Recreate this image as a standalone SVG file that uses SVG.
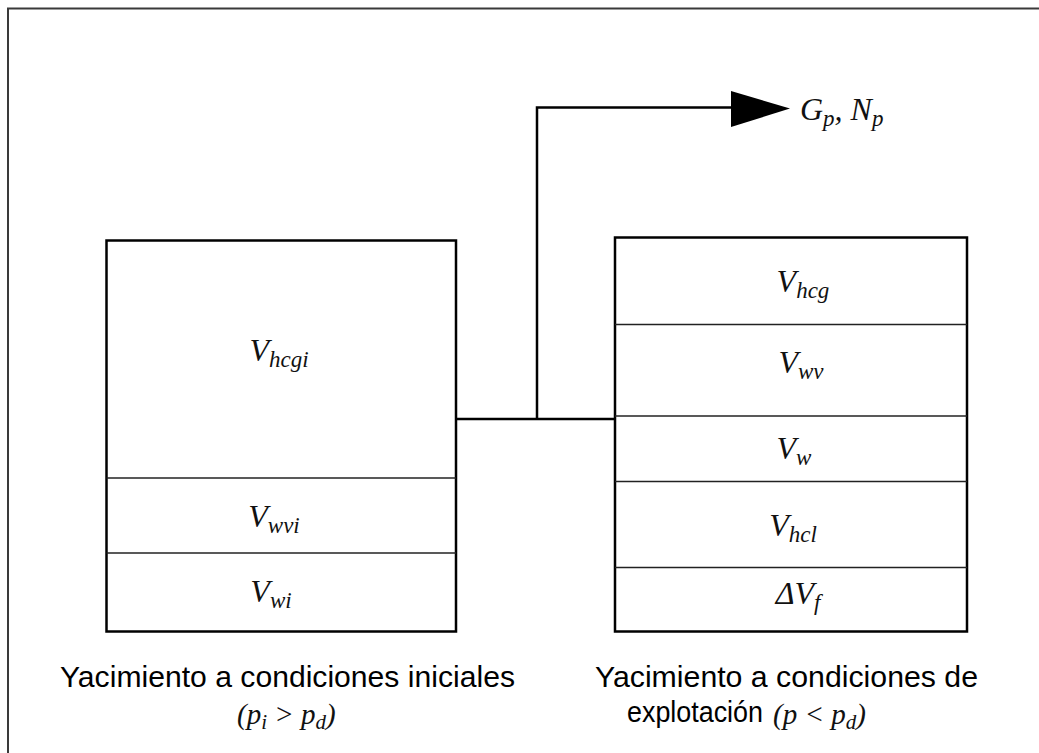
<svg xmlns="http://www.w3.org/2000/svg" width="1039" height="753" viewBox="0 0 1039 753">
<style>
.frame{fill:none;stroke:#3a3a3a;stroke-width:2}
.box{fill:#fff;stroke:#000;stroke-width:2.5}
.div{stroke:#222;stroke-width:1.5}
.conn{fill:none;stroke:#000;stroke-width:2.5}
.m{font-family:"Liberation Serif","DejaVu Serif",serif;font-style:italic;font-size:32px;fill:#111}
.s{font-size:23px}
.lbl{font-family:"Liberation Sans",Arial,sans-serif;font-size:30px;fill:#000}
.ml{font-family:"Liberation Serif","DejaVu Serif",serif;font-style:italic;font-size:29px;fill:#111}
.ms{font-size:21px}
</style>
<rect width="1039" height="753" fill="#fff"/>
<rect class="frame" x="8" y="8.5" width="1100" height="800"/>
<g id="connectors">
<path class="conn" d="M456 419 H615 M537 419 V107.5 H735"/>
<polygon points="731,91 790,108.5 731,127" fill="#000"/>
<text class="m" x="800" y="120">G<tspan class="s" dy="6">p</tspan><tspan dy="-6">, N</tspan><tspan class="s" dy="6">p</tspan></text>
</g>
<g id="initial">
<rect class="box" x="106.5" y="240.5" width="349.5" height="391"/>
<line class="div" x1="106.5" y1="478" x2="456" y2="478"/>
<line class="div" x1="106.5" y1="553" x2="456" y2="553"/>
<text class="m" x="279" y="361" text-anchor="middle">V<tspan class="s" dy="6">hcgi</tspan></text>
<text class="m" x="274" y="527" text-anchor="middle">V<tspan class="s" dy="6">wvi</tspan></text>
<text class="m" x="271" y="602" text-anchor="middle">V<tspan class="s" dy="6">wi</tspan></text>
</g>
<g id="exploitation">
<rect class="box" x="615" y="237.5" width="352" height="394"/>
<line class="div" x1="615" y1="324.5" x2="967" y2="324.5"/>
<line class="div" x1="615" y1="416" x2="967" y2="416"/>
<line class="div" x1="615" y1="481.5" x2="967" y2="481.5"/>
<line class="div" x1="615" y1="567.5" x2="967" y2="567.5"/>
<text class="m" x="803" y="292" text-anchor="middle">V<tspan class="s" dy="6">hcg</tspan></text>
<text class="m" x="801" y="373" text-anchor="middle">V<tspan class="s" dy="6">wv</tspan></text>
<text class="m" x="794" y="459" text-anchor="middle">V<tspan class="s" dy="6">w</tspan></text>
<text class="m" x="793" y="536" text-anchor="middle">V<tspan class="s" dy="6">hcl</tspan></text>
<text class="m" x="798" y="604" text-anchor="middle">ΔV<tspan class="s" dy="6">f</tspan></text>
</g>
<g id="labels">
<text class="lbl" x="60" y="687" textLength="455" lengthAdjust="spacingAndGlyphs">Yacimiento a condiciones iniciales</text>
<text class="ml" x="237" y="724">(p<tspan class="ms" dy="5">i</tspan><tspan dy="-5"> &gt; p</tspan><tspan class="ms" dy="5">d</tspan><tspan dy="-5">)</tspan></text>
<text class="lbl" x="595" y="687" textLength="383" lengthAdjust="spacingAndGlyphs">Yacimiento a condiciones de</text>
<text class="lbl" x="627" y="722" textLength="136" lengthAdjust="spacingAndGlyphs">explotación</text>
<text class="ml" x="773" y="724">(p &lt; p<tspan class="ms" dy="5">d</tspan><tspan dy="-5">)</tspan></text>
</g>
</svg>
